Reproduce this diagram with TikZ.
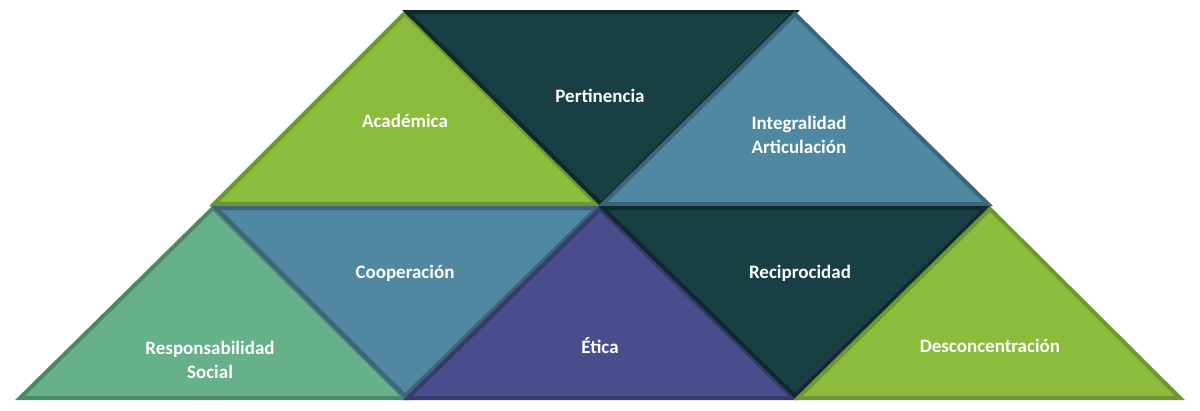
\documentclass[tikz,border=0pt]{standalone}
\usepackage{fontspec}
\setmainfont{Carlito}
\definecolor{cgreen}{RGB}{139,188,59}
\definecolor{cgreenb}{RGB}{110,150,50}
\definecolor{cdark}{RGB}{23,63,68}
\definecolor{cdarkb}{RGB}{14,42,45}
\definecolor{cblue}{RGB}{80,136,162}
\definecolor{cblueb}{RGB}{60,100,125}
\definecolor{cmint}{RGB}{102,176,138}
\definecolor{cmintb}{RGB}{75,135,105}
\definecolor{cviolet}{RGB}{74,77,140}
\definecolor{cvioletb}{RGB}{55,58,110}

\tikzset{
  tri/.style={line join=miter,line width=4pt},
  lbl/.style={text=white,font=\fontsize{19}{24}\selectfont\bfseries,align=center}
}

\begin{document}
\begin{tikzpicture}[y=1pt, x=1pt,yscale=-1, inner sep=0pt, outer sep=0pt]
  \path[fill=white] (0,0) rectangle (1200,410);
  \useasboundingbox (0,0) rectangle (1200,410);
  % top row
  \path[tri,fill=cgreen,draw=cgreenb] (405,13) -- (597,204) -- (214,204) -- cycle;
  \path[tri,fill=cdark,draw=cdarkb] (407,12) -- (795,12) -- (601,204) -- cycle;
  \path[tri,fill=cblue,draw=cblueb] (795,14) -- (988,204) -- (603,204) -- cycle;
  % bottom row
  \path[tri,fill=cmint,draw=cmintb] (213,208) -- (405,398) -- (20,398) -- cycle;
  \path[tri,fill=cblue,draw=cblueb] (216,208) -- (597,208) -- (405,396) -- cycle;
  \path[tri,fill=cviolet,draw=cvioletb] (600,209) -- (793,398) -- (408,398) -- cycle;
  \path[tri,fill=cdark,draw=cdarkb] (603,208) -- (986,208) -- (795,396) -- cycle;
  \path[tri,fill=cgreen,draw=cgreenb] (990,209) -- (1180,398) -- (798,398) -- cycle;
  % labels
  \node[lbl] (academica) at (405,121) {Académica};
  \node[lbl] (pertinencia) at (600,96) {Pertinencia};
  \node[lbl] (integralidad) at (799,135) {Integralidad\\Articulación};
  \node[lbl] (cooperacion) at (405,273) {Cooperación};
  \node[lbl] (responsabilidad) at (210,360) {Responsabilidad\\Social};
  \node[lbl] (etica) at (600,346) {Ética};
  \node[lbl] (reciprocidad) at (800,273) {Reciprocidad};
  \node[lbl] (desconcentracion) at (990,346) {Desconcentración};
\end{tikzpicture}
\end{document}
